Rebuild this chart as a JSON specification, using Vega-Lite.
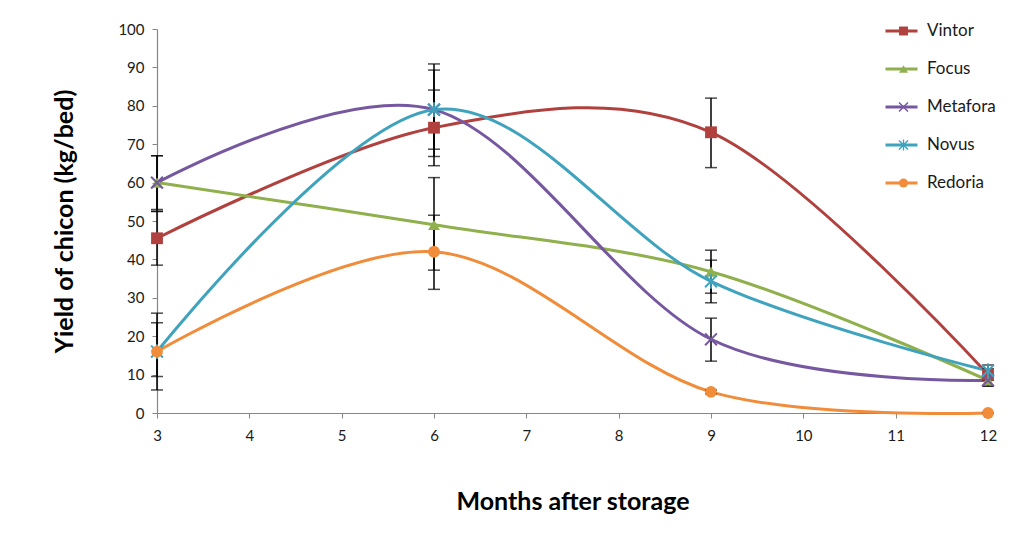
{
  "$schema": "https://vega.github.io/schema/vega-lite/v6.json",
  "autosize": "none",
  "padding": {"left": 157, "top": 29, "right": 32, "bottom": 135},
  "width": 831,
  "height": 384,
  "background": "white",
  "config": {
    "view": {"stroke": null},
    "font": "Lato",
    "axis": {"grid": false, "domainColor": "#868686", "tickColor": "#868686", "domainWidth": 1.2, "tickSize": 5, "labelFont": "Lato", "labelFontSize": 15, "labelColor": "#1a1a1a", "labelOverlap": false, "labelFlush": false, "titleFont": "Lato", "titleFontWeight": "bold", "titleFontSize": 25, "titleColor": "#000000"},
    "axisX": {"titlePadding": 46, "labelPadding": 10},
    "axisY": {"titlePadding": 40, "labelPadding": 8}
  },
  "data": {
    "values": [
      {"month": 3, "variety": "Vintor", "y": 45.5, "lo": 38.5, "hi": 52.5},
      {"month": 6, "variety": "Vintor", "y": 74.3, "lo": 64.4, "hi": 84.1},
      {"month": 9, "variety": "Vintor", "y": 73.1, "lo": 63.9, "hi": 82.0},
      {"month": 12, "variety": "Vintor", "y": 10.0, "lo": 8.5, "hi": 11.5},
      {"month": 3, "variety": "Focus", "y": 60.0, "lo": 53.0, "hi": 67.0},
      {"month": 6, "variety": "Focus", "y": 49.0, "lo": 37.2, "hi": 61.3},
      {"month": 9, "variety": "Focus", "y": 36.8, "lo": 31.2, "hi": 42.4},
      {"month": 12, "variety": "Focus", "y": 8.5, "lo": 7.0, "hi": 10.0},
      {"month": 3, "variety": "Metafora", "y": 60.0, "lo": 52.5, "hi": 67.0},
      {"month": 6, "variety": "Metafora", "y": 79.0, "lo": 68.7, "hi": 89.3},
      {"month": 9, "variety": "Metafora", "y": 19.2, "lo": 13.5, "hi": 24.7},
      {"month": 12, "variety": "Metafora", "y": 8.5, "lo": 7.0, "hi": 10.0},
      {"month": 3, "variety": "Novus", "y": 16.0, "lo": 6.0, "hi": 26.0},
      {"month": 6, "variety": "Novus", "y": 79.0, "lo": 66.8, "hi": 90.9},
      {"month": 9, "variety": "Novus", "y": 34.3, "lo": 28.7, "hi": 39.8},
      {"month": 12, "variety": "Novus", "y": 11.0, "lo": 9.5, "hi": 12.5},
      {"month": 3, "variety": "Redoria", "y": 16.0, "lo": 9.5, "hi": 23.5},
      {"month": 6, "variety": "Redoria", "y": 42.0, "lo": 32.2, "hi": 51.5},
      {"month": 9, "variety": "Redoria", "y": 5.5, "lo": 5.0, "hi": 6.0},
      {"month": 12, "variety": "Redoria", "y": 0.0, "lo": 0.0, "hi": 0.0}
    ]
  },
  "layer": [
    {
      "mark": {"type": "line", "interpolate": "cardinal", "strokeWidth": 3},
      "encoding": {
        "x": {"field": "month", "type": "quantitative", "scale": {"domain": [3, 12], "nice": false, "zero": false}, "title": "Months after storage", "axis": {"values": [3,4,5,6,7,8,9,10,11,12], "format": "d"}},
        "y": {"field": "y", "type": "quantitative", "scale": {"domain": [0, 100], "nice": false}, "title": "Yield of chicon (kg/bed)", "axis": {"values": [0,10,20,30,40,50,60,70,80,90,100], "format": "d"}},
        "stroke": {"field": "variety", "type": "nominal", "sort": ["Vintor", "Focus", "Metafora", "Novus", "Redoria"],
                   "scale": {"range": ["#B0413E", "#8FB04D", "#7658A0", "#3FA3BE", "#F08C3A"]},
                   "legend": {"title": null, "orient": "none", "legendX": 727, "legendY": -17, "symbolType": "stroke", "symbolSize": 1024, "symbolStrokeWidth": 3, "labelFontSize": 17, "labelFont": "Lato", "labelColor": "#1a1a1a", "labelOffset": 8, "clipHeight": 38, "rowPadding": 0}}
      }
    },
    {
      "mark": {"type": "rule", "color": "black", "strokeWidth": 1.5},
      "encoding": {
        "x": {"field": "month", "type": "quantitative", "title": "Months after storage", "axis": {"values": [3,4,5,6,7,8,9,10,11,12], "format": "d"}},
        "y": {"field": "lo", "type": "quantitative", "title": "Yield of chicon (kg/bed)", "axis": {"values": [0,10,20,30,40,50,60,70,80,90,100], "format": "d"}},
        "y2": {"field": "hi"}
      }
    },
    {
      "mark": {"type": "tick", "color": "black", "orient": "horizontal", "size": 12, "thickness": 1.5},
      "encoding": {
        "x": {"field": "month", "type": "quantitative", "title": "Months after storage", "axis": {"values": [3,4,5,6,7,8,9,10,11,12], "format": "d"}},
        "y": {"field": "lo", "type": "quantitative", "title": "Yield of chicon (kg/bed)", "axis": {"values": [0,10,20,30,40,50,60,70,80,90,100], "format": "d"}}
      }
    },
    {
      "mark": {"type": "tick", "color": "black", "orient": "horizontal", "size": 12, "thickness": 1.5},
      "encoding": {
        "x": {"field": "month", "type": "quantitative", "title": "Months after storage", "axis": {"values": [3,4,5,6,7,8,9,10,11,12], "format": "d"}},
        "y": {"field": "hi", "type": "quantitative", "title": "Yield of chicon (kg/bed)", "axis": {"values": [0,10,20,30,40,50,60,70,80,90,100], "format": "d"}}
      }
    },
    {
      "mark": {"type": "point", "filled": true, "size": 140, "strokeWidth": 0, "opacity": 1},
      "encoding": {
        "x": {"field": "month", "type": "quantitative", "title": "Months after storage", "axis": {"values": [3,4,5,6,7,8,9,10,11,12], "format": "d"}},
        "y": {"field": "y", "type": "quantitative", "title": "Yield of chicon (kg/bed)", "axis": {"values": [0,10,20,30,40,50,60,70,80,90,100], "format": "d"}},
        "color": {"field": "variety", "type": "nominal",
                  "scale": {"domain": ["Vintor", "Focus", "Metafora", "Novus", "Redoria"], "range": ["#B0413E", "#8FB04D", "#7658A0", "#3FA3BE", "#F08C3A"]},
                  "legend": {"title": null, "orient": "none", "legendX": 738, "legendY": -17, "symbolSize": 80, "symbolStrokeWidth": 0, "labelFontSize": 17, "labelExpr": "''", "labelOffset": 8, "clipHeight": 38, "rowPadding": 0}},
        "shape": {"field": "variety", "type": "nominal",
                  "scale": {"domain": ["Vintor", "Focus", "Metafora", "Novus", "Redoria"], "range": ["square", "triangle-up", "M-0.88,-1.12L1.12,0.88L0.88,1.12L-1.12,-0.88ZM0.88,-1.12L1.12,-0.88L-0.88,1.12L-1.12,0.88Z", "M-0.88,-1.12L1.12,0.88L0.88,1.12L-1.12,-0.88ZM0.88,-1.12L1.12,-0.88L-0.88,1.12L-1.12,0.88ZM-0.15,-1.25L0.15,-1.25L0.15,1.25L-0.15,1.25Z", "circle"]},
                  "legend": {"title": null, "orient": "none", "legendX": 738, "legendY": -17, "symbolSize": 80, "symbolStrokeWidth": 0, "labelFontSize": 17, "labelExpr": "''", "labelOffset": 8, "clipHeight": 38, "rowPadding": 0}}
      }
    }
  ]
}
